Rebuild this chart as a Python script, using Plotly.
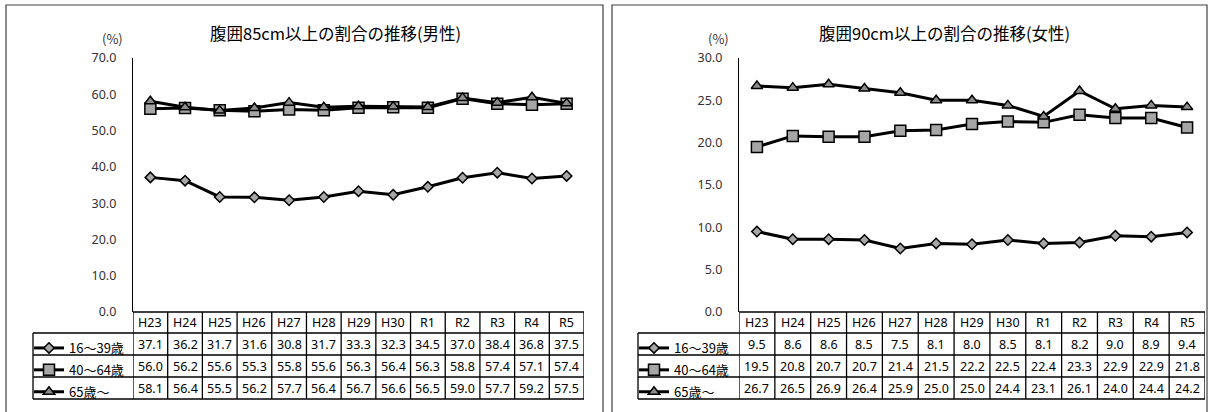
import plotly.graph_objects as go

# ---------------- data ----------------
years = ["H23", "H24", "H25", "H26", "H27", "H28", "H29", "H30", "R1", "R2", "R3", "R4", "R5"]
groups = ["16〜39歳", "40〜64歳", "65歳〜"]

male_16_39 = [37.1, 36.2, 31.7, 31.6, 30.8, 31.7, 33.3, 32.3, 34.5, 37.0, 38.4, 36.8, 37.5]
male_40_64 = [56.0, 56.2, 55.6, 55.3, 55.8, 55.6, 56.3, 56.4, 56.3, 58.8, 57.4, 57.1, 57.4]
male_65_up = [58.1, 56.4, 55.5, 56.2, 57.7, 56.4, 56.7, 56.6, 56.5, 59.0, 57.7, 59.2, 57.5]

female_16_39 = [9.5, 8.6, 8.6, 8.5, 7.5, 8.1, 8.0, 8.5, 8.1, 8.2, 9.0, 8.9, 9.4]
female_40_64 = [19.5, 20.8, 20.7, 20.7, 21.4, 21.5, 22.2, 22.5, 22.4, 23.3, 22.9, 22.9, 21.8]
female_65_up = [26.7, 26.5, 26.9, 26.4, 25.9, 25.0, 25.0, 24.4, 23.1, 26.1, 24.0, 24.4, 24.2]

male_title = "腹囲85cm以上の割合の推移(男性)"
female_title = "腹囲90cm以上の割合の推移(女性)"
unit_label = "(%)"
male_yticks = [0, 10, 20, 30, 40, 50, 60, 70]
female_yticks = [0, 5, 10, 15, 20, 25, 30]

# ---------------- layout constants (pixels of a 1210x412 canvas) ----------------
W, H = 1210, 412
def px(x):
    return x / W
def py(y):
    return 1 - y / H

PLOT_TOP, PLOT_BOT = 58, 312
ROWS = [312, 333, 355, 377, 399]          # table row boundaries
panels = [
    dict(x0=133, x1=584, lab=33, bx0=6, bx1=603, title_x=335, unit_x=112,
         xa="x", ya="y", legend="legend", series=[male_16_39, male_40_64, male_65_up],
         title=male_title, yticks=male_yticks, ymax=70),
    dict(x0=739, x1=1205, lab=638, bx0=612, bx1=1207, title_x=945, unit_x=718,
         xa="x2", ya="y2", legend="legend2", series=[female_16_39, female_40_64, female_65_up],
         title=female_title, yticks=female_yticks, ymax=30),
]

symbols = ["diamond", "square", "triangle-up"]
msizes = [8, 11, 10]
fills = ["#a6a6a6", "#a6a6a6", "#8c8c8c"]

CJK = "Noto Sans CJK JP"
NUMF = "Noto Sans"

fig = go.Figure()
annotations = []
shapes = []

for pi, p in enumerate(panels):
    for gi, g in enumerate(groups):
        fig.add_trace(go.Scatter(
            x=years, y=p["series"][gi], name=g, mode="lines+markers",
            xaxis=p["xa"], yaxis=p["ya"], legend=p["legend"],
            legendgroup=f"{pi}-{gi}",
            line=dict(color="#000000", width=3),
            marker=dict(symbol=symbols[gi], size=msizes[gi], color=fills[gi],
                        line=dict(color="#000000", width=1.5)),
            hoverinfo="skip",
        ))

    xr = p["xa"]
    hy = py((ROWS[0] + ROWS[1]) / 2)
    for yr in years:
        annotations.append(dict(x=yr, y=hy, xref=xr, yref="paper", text=yr, showarrow=False,
                                font=dict(family=NUMF, size=12.5, color="#000"),
                                xanchor="center", yanchor="middle"))
    for gi in range(len(groups)):
        ry = py((ROWS[gi + 1] + ROWS[gi + 2]) / 2)
        for yr, v in zip(years, p["series"][gi]):
            annotations.append(dict(x=yr, y=ry, xref=xr, yref="paper", text=f"{v:.1f}",
                                    showarrow=False,
                                    font=dict(family=NUMF, size=12.5, color="#000"),
                                    xanchor="center", yanchor="middle"))
    annotations.append(dict(x=px(p["title_x"]), y=py(33), xref="paper", yref="paper",
                            text=p["title"], showarrow=False,
                            font=dict(family=CJK, size=16.5, color="#000"),
                            xanchor="center", yanchor="middle"))
    annotations.append(dict(x=px(p["unit_x"]), y=py(39), xref="paper", yref="paper",
                            text=unit_label, showarrow=False,
                            font=dict(family=CJK, size=13, color="#333"),
                            xanchor="center", yanchor="middle"))

    for i in range(len(years) + 1):
        shapes.append(dict(type="line", xref=xr, yref="paper", x0=i - 0.5, x1=i - 0.5,
                           y0=py(ROWS[0]), y1=py(ROWS[-1]),
                           line=dict(color="#000", width=1.3)))
    shapes.append(dict(type="line", xref=xr, yref="paper", x0=-0.5, x1=len(years) - 0.5,
                       y0=py(ROWS[0]), y1=py(ROWS[0]), line=dict(color="#000", width=1.3)))
    for r in ROWS[1:]:
        shapes.append(dict(type="line", xref="paper", yref="paper", x0=px(p["lab"]), x1=px(p["x1"]),
                           y0=py(r), y1=py(r), line=dict(color="#000", width=1.3)))
    shapes.append(dict(type="line", xref="paper", yref="paper", x0=px(p["lab"]), x1=px(p["lab"]),
                       y0=py(ROWS[1]), y1=py(ROWS[-1]), line=dict(color="#000", width=1.3)))
    shapes.append(dict(type="rect", xref="paper", yref="paper", x0=px(p["bx0"]), x1=px(p["bx1"]),
                       y0=-0.05, y1=py(5), line=dict(color="#404040", width=1.2)))

layout = dict(
    margin=dict(l=0, r=0, t=0, b=0, autoexpand=False),
    paper_bgcolor="#ffffff", plot_bgcolor="rgba(0,0,0,0)",
    showlegend=True,
    annotations=annotations, shapes=shapes,
)

for pi, p in enumerate(panels):
    sx = "" if pi == 0 else "2"
    layout[f"xaxis{sx}"] = dict(domain=[px(p["x0"]), px(p["x1"])], range=[-0.5, len(years) - 0.5],
                                type="category", showticklabels=False, showgrid=False,
                                zeroline=False, showline=False, ticks="", fixedrange=True,
                                automargin=False, anchor=f"y{sx}")
    layout[f"yaxis{sx}"] = dict(domain=[py(PLOT_BOT), py(PLOT_TOP)], range=[0, p["ymax"]],
                                tickvals=p["yticks"], tickformat=".1f",
                                showline=True, linecolor="#000", linewidth=1.3,
                                ticks="outside", ticklen=13, tickcolor="rgba(0,0,0,0)",
                                showgrid=False, zeroline=False, fixedrange=True,
                                automargin=False,
                                tickfont=dict(family=NUMF, size=12.5, color="#333"),
                                anchor=f"x{sx}")
    layout[p["legend"]] = dict(x=px(p["lab"] - 4), y=py(ROWS[1]), xanchor="left", yanchor="top",
                               bgcolor="rgba(0,0,0,0)", borderwidth=0,
                               font=dict(family=CJK, size=13, color="#000"),
                               tracegroupgap=2, itemwidth=30, traceorder="grouped",
                               itemclick=False, itemdoubleclick=False)

fig.update_layout(**layout)
fig.write_html(
    "out.html",
    config={"displayModeBar": False},
    default_width="1210px",
    default_height="412px; position:absolute; top:0px; left:0px",
)
